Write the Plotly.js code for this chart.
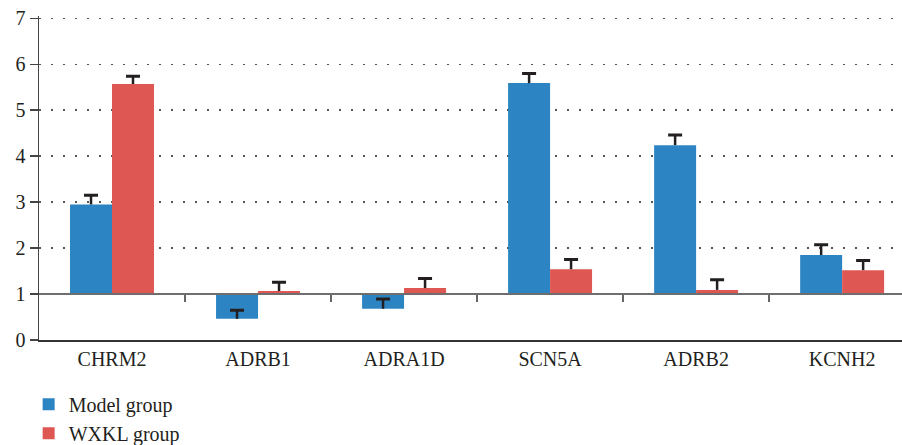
<!DOCTYPE html>
<html>
<head>
<meta charset="utf-8">
<script src="https://cdn.plot.ly/plotly-3.0.1.min.js"></script>
<style>html,body{margin:0;padding:0;background:#fff;}#chart{width:902px;height:445px;}</style>
</head>
<body>
<div id="chart"></div>
<script>
// Data (values relative to a baseline of 1)
var categories = ["CHRM2", "ADRB1", "ADRA1D", "SCN5A", "ADRB2", "KCNH2"];
var modelValues = [2.95, 0.46, 0.68, 5.59, 4.24, 1.85];
var modelErrors = [0.20, 0.19, 0.21, 0.21, 0.22, 0.22];
var wxklValues = [5.57, 1.065, 1.13, 1.54, 1.09, 1.52];
var wxklErrors = [0.17, 0.19, 0.21, 0.21, 0.22, 0.21];
var baseline = 1;
var yTicks = [0, 1, 2, 3, 4, 5, 6, 7];
var seriesNames = ["Model group", "WXKL group"];
var seriesColors = ["#2C84C3", "#DE5753"];

function rel(arr) { return arr.map(function (v) { return v - baseline; }); }
function zeros(arr) { return arr.map(function () { return 0; }); }
function tops(vals, errs) { return vals.map(function (v, i) { return v + errs[i] - baseline; }); }

var errColor = "#231f20";

function seriesTraces(idx, vals, errs) {
  var group = "g" + idx;
  return [
    // visible bars with the error stem only (no caps)
    {
      type: "bar", name: seriesNames[idx], x: categories, y: rel(vals), base: baseline,
      offsetgroup: group, legendgroup: group,
      marker: {color: seriesColors[idx], line: {width: 0}},
      error_y: {type: "data", symmetric: false, array: errs, arrayminus: zeros(errs),
                color: errColor, thickness: 2.5, width: 0}
    },
    // transparent bars reaching the error top, carrying only the cap
    {
      type: "bar", name: seriesNames[idx] + " cap", x: categories, y: tops(vals, errs), base: baseline,
      offsetgroup: group, legendgroup: group, showlegend: false,
      marker: {color: "rgba(0,0,0,0)", line: {width: 0}},
      error_y: {type: "data", symmetric: true, array: zeros(errs),
                color: errColor, thickness: 3, width: 7}
    }
  ];
}

var traces = seriesTraces(0, modelValues, modelErrors)
  .concat(seriesTraces(1, wxklValues, wxklErrors))
  .concat([{
    type: "scatter", mode: "markers", x: [], y: [], xaxis: "x2", yaxis: "y",
    showlegend: false, hoverinfo: "skip"
  }]);

var fontFam = "Liberation Serif";
var xRange = [-0.5, 5.41];
var yTop = 7.05;

var layout = {
  width: 902, height: 445,
  margin: {l: 39, r: 0, t: 16, b: 105, autoexpand: false},
  paper_bgcolor: "#fff", plot_bgcolor: "#fff",
  font: {family: fontFam, size: 20, color: "#231f20"},
  barmode: "group", bargap: 0.425, bargroupgap: 0,
  showlegend: true,
  legend: {
    orientation: "v", x: -0.012, xanchor: "left", y: -0.138, yanchor: "top",
    font: {family: fontFam, size: 20, color: "#231f20"},
    bgcolor: "rgba(0,0,0,0)", tracegroupgap: 0, itemwidth: 30
  },
  xaxis: {
    type: "category", range: xRange,
    showline: true, linecolor: "#333", linewidth: 1.5,
    ticks: "", ticklabelstandoff: 0, showgrid: false, zeroline: false,
    tickfont: {family: fontFam, size: 20, color: "#231f20"}
  },
  xaxis2: {
    overlaying: "x", anchor: "free", position: 1 / yTop, side: "bottom",
    range: xRange, type: "linear",
    tickmode: "array", tickvals: [0.5, 1.5, 2.5, 3.5, 4.5],
    ticks: "outside", ticklen: 7, tickwidth: 1.5, tickcolor: "#666",
    showticklabels: false, showline: true, linecolor: "#6e6e6e", linewidth: 2,
    showgrid: false, zeroline: false
  },
  yaxis: {
    range: [0, yTop], tickmode: "array", tickvals: yTicks,
    ticks: "outside", ticklen: 8, tickwidth: 1.5, tickcolor: "#444",
    showline: true, linecolor: "#444", linewidth: 1.5,
    showgrid: true, gridcolor: "#555", gridwidth: 1.5, griddash: "2px,10px",
    zeroline: false,
    tickfont: {family: fontFam, size: 20, color: "#231f20"}
  }
};

Plotly.newPlot("chart", traces, layout, {displayModeBar: false, staticPlot: true});
</script>
</body>
</html>
